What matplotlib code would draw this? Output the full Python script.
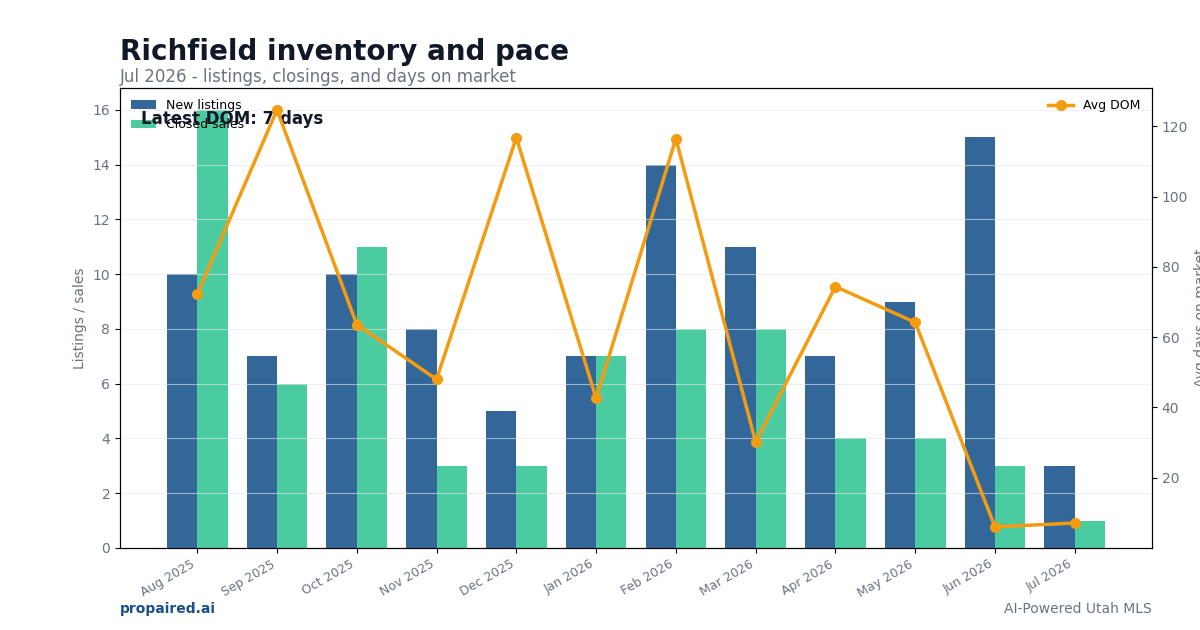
import matplotlib
matplotlib.use("Agg")
import matplotlib.pyplot as plt
import numpy as np

months = ["Aug 2025", "Sep 2025", "Oct 2025", "Nov 2025", "Dec 2025", "Jan 2026",
          "Feb 2026", "Mar 2026", "Apr 2026", "May 2026", "Jun 2026", "Jul 2026"]
new_listings = [10, 7, 10, 8, 5, 7, 14, 11, 7, 9, 15, 3]
closed_sales = [16, 6, 11, 3, 3, 7, 8, 8, 4, 4, 3, 1]
avg_dom = [72.2, 124.7, 63.6, 48.0, 116.8, 42.6, 116.5, 30.1, 74.4, 64.2, 6.0, 7.1]
dom_ticks = [20, 40, 60, 80, 100, 120]

C_NEW = "#336699"
C_CLOSED = "#4bcba0"
C_DOM = "#f39c12"
C_GRAY = "#6b7280"

fig = plt.figure(figsize=(12, 6.3), dpi=100)
ax = fig.add_axes([0.1, 0.1302, 0.86, 0.7302])
x = np.arange(len(months))
w = 0.38
ax.bar(x - w / 2, new_listings, w, color=C_NEW, label="New listings")
ax.bar(x + w / 2, closed_sales, w, color=C_CLOSED, label="Closed sales")
ax.set_ylim(0, max(closed_sales + new_listings) * 1.05)
ax.set_axisbelow(False)
ax.grid(axis="y", color="#e5e7eb", linewidth=0.8, alpha=0.6)
ax.set_xticks(x)
ax.set_xticklabels(months, rotation=30, ha="right", fontsize=9, color=C_GRAY)
ax.tick_params(axis="y", labelsize=10, labelcolor=C_GRAY)
ax.set_ylabel("Listings / sales", fontsize=10, color=C_GRAY)
ax.legend(loc="upper left", frameon=False, fontsize=9)

ax2 = ax.twinx()
ax2.plot(x, avg_dom, color=C_DOM, linewidth=2.5, marker="o", markersize=7, label="Avg DOM")
ax2.set_ylim(0, max(avg_dom) * 1.05)
ax2.set_yticks(dom_ticks)
ax2.tick_params(axis="y", labelsize=10, labelcolor=C_GRAY)
ax2.set_ylabel("Avg days on market", fontsize=10, color=C_GRAY)
ax2.legend(loc="upper right", frameon=False, fontsize=9)

ax.text(0.02, 0.932, f"Latest DOM: {round(avg_dom[-1])} days", transform=ax.transAxes,
        fontsize=12, fontweight="bold", color="#111827", va="center", ha="left", zorder=10)

fig.text(0.1, 0.917, "Richfield inventory and pace", fontsize=20, fontweight="bold",
         color="#111827", va="center", ha="left")
fig.text(0.1, 0.877, "Jul 2026 - listings, closings, and days on market", fontsize=12,
         color=C_GRAY, va="center", ha="left")
fig.text(0.1, 0.033, "propaired.ai", fontsize=10, fontweight="bold", color="#1a4f8a",
         va="center", ha="left")
fig.text(0.96, 0.033, "AI-Powered Utah MLS", fontsize=10, color=C_GRAY,
         va="center", ha="right")

fig.savefig("out.png", dpi=100)
